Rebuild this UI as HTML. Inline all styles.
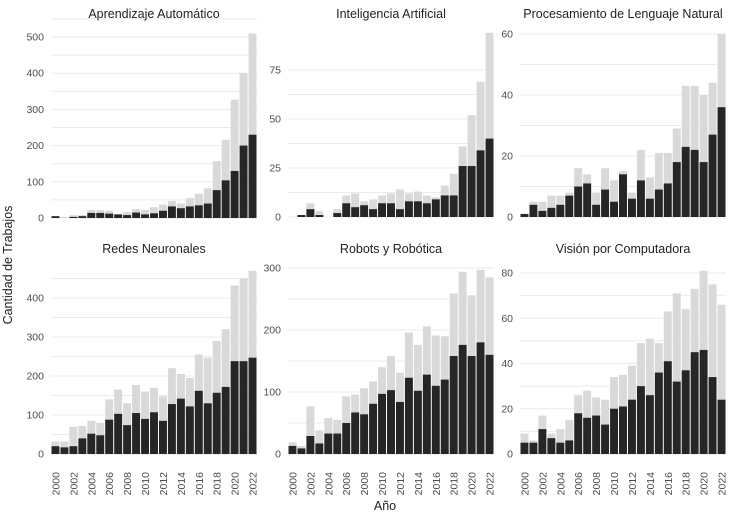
<!DOCTYPE html>
<html><head><meta charset="utf-8"><style>
html,body{margin:0;padding:0;background:#fff;}
svg{display:block;font-family:"Liberation Sans",Arial,sans-serif;}
</style></head><body>
<svg id="chart" width="736" height="513" viewBox="0 0 736 513">
<text x="12" y="265" transform="rotate(-90 12 265)" text-anchor="middle" font-size="12.5" fill="#222">Cantidad de Trabajos</text>
<text x="385" y="510" text-anchor="middle" font-size="12.5" fill="#222">Año</text>
</svg>
<script>
const years = [2000,2001,2002,2003,2004,2005,2006,2007,2008,2009,2010,2011,2012,2013,2014,2015,2016,2017,2018,2019,2020,2021,2022];
const xTickLabels = ["2000","2002","2004","2006","2008","2010","2012","2014","2016","2018","2020","2022"];
const titles = ["Aprendizaje Automático","Inteligencia Artificial","Procesamiento de Lenguaje Natural","Redes Neuronales","Robots y Robótica","Visión por Computadora"];
const mlDark  = [5,0,3,5,14,14,12,10,8,15,10,13,20,32,27,32,35,40,77,104,130,200,230];
const mlTotal = [5,3,8,8,22,22,20,10,16,25,22,30,37,47,40,55,67,82,157,216,327,400,510];
const aiDark  = [0,1,4,1,0,2,7,5,6,4,7,7,4,8,8,7,9,11,11,26,26,34,40];
const aiTotal = [0,1,7,3,0,4,11,12,8,9,11,12,14,12,13,11,10,16,22,36,52,69,94];
const nlpDark  = [1,4,2,3,4,7,10,11,4,9,5,14,6,12,6,9,11,18,23,22,18,27,36];
const nlpTotal = [1,5,5,7,7,8,16,14,8,16,12,15,8,22,13,21,21,29,43,43,40,44,60];
const nnDark  = [20,17,20,40,52,48,88,103,74,105,90,107,85,128,142,122,162,130,157,172,238,238,247];
const nnTotal = [32,32,70,72,85,80,140,165,130,177,160,170,148,220,205,195,255,247,290,320,432,450,470];
const robDark  = [13,9,29,17,33,33,50,67,64,81,97,103,84,123,102,128,110,120,158,176,158,180,160];
const robTotal = [19,13,77,38,58,55,93,96,106,117,140,158,131,196,176,206,191,190,259,294,256,297,285];
const cvDark  = [5,5,11,7,5,6,18,16,17,13,20,21,24,30,26,36,41,32,37,45,46,34,24];
const cvTotal = [9,6,17,9,11,15,26,28,25,24,34,35,39,49,51,49,63,71,64,73,81,75,66];
const yTicks = [[0,100,200,300,400,500],[0,25,50,75],[0,20,40,60],[0,100,200,300,400],[0,100,200,300],[0,20,40,60,80]];
const darkSeries = [mlDark,aiDark,nlpDark,nnDark,robDark,cvDark];
const totalSeries = [mlTotal,aiTotal,nlpTotal,nnTotal,robTotal,cvTotal];

const NS="http://www.w3.org/2000/svg";
const svg=document.getElementById('chart');
function mk(tag,attrs,parent){const e=document.createElementNS(NS,tag);for(const k in attrs)e.setAttribute(k,attrs[k]);(parent||svg).appendChild(e);return e;}
const panels=[
 {x0:51,x1:257,y0:218,yRef:37,vRef:500,ymax:510},
 {x0:288,x1:494,y0:217,yRef:70,vRef:75,ymax:94},
 {x0:520,x1:726,y0:217,yRef:34,vRef:60,ymax:60},
 {x0:51,x1:257,y0:454,yRef:298,vRef:400,ymax:470},
 {x0:288,x1:494,y0:454,yRef:268,vRef:300,ymax:297},
 {x0:520,x1:726,y0:454,yRef:273,vRef:80,ymax:81}
];
panels.forEach((p,i)=>{
  const g=mk('g',{});
  
  
  const yS=v=>p.y0-(v/p.vRef)*(p.y0-p.yRef);
  const slot=(p.x1-p.x0)/years.length;
  const xS=j=>p.x0+j*slot;
  const ticks=yTicks[i];
  const step=ticks[1]-ticks[0];
  for(let v=0; v<=p.ymax+step/2+0.001; v+=step/2){
    if(yS(v)<p.yRef-20 && v>ticks[ticks.length-1]+step/2-0.001) break;
    const ln=mk('line',{x1:p.x0,x2:p.x1,y1:yS(v),y2:yS(v),stroke:'#ebebeb','stroke-width':1},g);
    
    
  }
  ticks.forEach(t=>{
    const tx=mk('text',{x:p.x0-7,y:yS(t)+3.5,'text-anchor':'end','font-size':'10.5',fill:'#4d4d4d'},g);
    tx.textContent=t;
    
    
  });
  years.forEach((yr,j)=>{
    const tot=totalSeries[i][j], dk=darkSeries[i][j];
    const r1=mk('rect',{x:xS(j)+0.5,width:slot-1,y:yS(tot),height:Math.max(0,p.y0-yS(tot)),fill:'#d9d9d9'},g);
    
    
    const r2=mk('rect',{x:xS(j)+0.5,width:slot-1,y:yS(dk),height:Math.max(0,p.y0-yS(dk)),fill:'#262626'},g);
    
    
  });
  const tl=mk('text',{x:(p.x0+p.x1)/2,y:i<3?18:253,'text-anchor':'middle','font-size':'12.5',fill:'#222'},g);
  tl.textContent=titles[i];
  
  
  if(i>=3){
    xTickLabels.forEach(lbl=>{
      const j=years.indexOf(+lbl);
      const cx=xS(j)+slot/2+4;
      const t=mk('text',{x:cx,y:472,transform:`rotate(-90 ${cx} 472)`,'text-anchor':'end','font-size':'10.5',fill:'#4d4d4d'},g);
      t.textContent=lbl;
      
      
    });
  }
});
</script>
</body></html>
